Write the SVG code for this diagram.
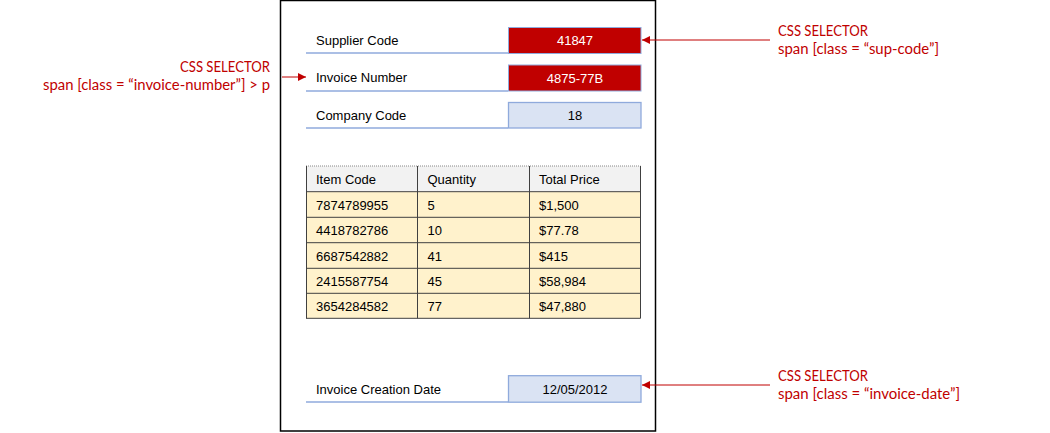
<svg xmlns="http://www.w3.org/2000/svg" width="1050" height="433" viewBox="0 0 1050 433">
<defs>
<style>
.lbl{font-family:"Liberation Sans",Arial,sans-serif;font-size:13px;fill:#000}
.val{font-family:"Liberation Sans",Arial,sans-serif;font-size:13px;text-anchor:middle}
.sel{font-family:Lato,"Open Sans",sans-serif;font-size:14.5px;fill:#c00000}
.ul{stroke:#8faadc;stroke-width:1.3}
.red{fill:#c00000;stroke:#8faadc;stroke-width:1}
.blue{fill:#dae3f3;stroke:#8faadc;stroke-width:1.3}
.cell{stroke:#404040;stroke-width:1}
.conn{stroke:#c00000;stroke-width:1;fill:none}
</style>
<marker id="ah" viewBox="0 0 10 10" refX="10" refY="5" markerWidth="8" markerHeight="8" markerUnits="userSpaceOnUse" orient="auto">
<path d="M0,0 L10,5 L0,10 z" fill="#c00000"/>
</marker>
</defs>
<rect width="1050" height="433" fill="#fff"/>
<g id="frame"><rect x="280.5" y="0.5" width="375" height="430.5" fill="#fff" stroke="#000" stroke-width="1.5"/></g>

<g id="supplier-code">
<line class="ul" x1="306" y1="53" x2="508" y2="53"/>
<text class="lbl" x="316" y="45">Supplier Code</text>
<rect class="red" x="508.5" y="27.5" width="132.5" height="26"/>
<text class="val" x="575" y="45" fill="#fff">41847</text>
</g>

<g id="invoice-number">
<line class="ul" x1="306" y1="91" x2="508" y2="91"/>
<text class="lbl" x="316" y="82">Invoice Number</text>
<rect class="red" x="508.5" y="65" width="132.5" height="26"/>
<text class="val" x="575" y="82.5" fill="#fff">4875-77B</text>
</g>

<g id="company-code">
<line class="ul" x1="306" y1="128" x2="508" y2="128"/>
<text class="lbl" x="316" y="119.5">Company Code</text>
<rect class="blue" x="508.5" y="102.5" width="132.5" height="25.5"/>
<text class="val" x="575" y="120" fill="#000">18</text>
</g>

<g id="item-table">
<rect x="306" y="166" width="334.5" height="25.7" fill="#f2f2f2"/>
<rect x="306" y="191.7" width="334.5" height="126.6" fill="#fff2cc"/>
<g class="cell">
<line x1="306" y1="166" x2="640.5" y2="166" stroke="#888" stroke-dasharray="1 1"/>
<line x1="306" y1="191.7" x2="640.5" y2="191.7"/>
<line x1="306" y1="217.3" x2="640.5" y2="217.3"/>
<line x1="306" y1="242.7" x2="640.5" y2="242.7"/>
<line x1="306" y1="268.3" x2="640.5" y2="268.3"/>
<line x1="306" y1="293.3" x2="640.5" y2="293.3"/>
<line x1="306" y1="318.3" x2="640.5" y2="318.3"/>
<line x1="306.5" y1="166" x2="306.5" y2="318.3"/>
<line x1="417.5" y1="166" x2="417.5" y2="318.3"/>
<line x1="529.5" y1="166" x2="529.5" y2="318.3"/>
<line x1="640.5" y1="166" x2="640.5" y2="318.3"/>
</g>
<g class="lbl">
<text x="316" y="184">Item Code</text><text x="427.5" y="184">Quantity</text><text x="539" y="184">Total Price</text>
<text x="316" y="209.5">7874789955</text><text x="427.5" y="209.5">5</text><text x="539" y="209.5">$1,500</text>
<text x="316" y="235">4418782786</text><text x="427.5" y="235">10</text><text x="539" y="235">$77.78</text>
<text x="316" y="260.5">6687542882</text><text x="427.5" y="260.5">41</text><text x="539" y="260.5">$415</text>
<text x="316" y="286">2415587754</text><text x="427.5" y="286">45</text><text x="539" y="286">$58,984</text>
<text x="316" y="311">3654284582</text><text x="427.5" y="311">77</text><text x="539" y="311">$47,880</text>
</g>
</g>

<g id="invoice-creation-date">
<line class="ul" x1="306" y1="402" x2="508" y2="402"/>
<text class="lbl" x="316" y="393.5">Invoice Creation Date</text>
<rect class="blue" x="508.5" y="375.7" width="132.5" height="26.5"/>
<text class="val" x="575" y="393.5" fill="#000">12/05/2012</text>
</g>

<g id="selector-sup-code">
<text class="sel" x="778" y="36" textLength="90" lengthAdjust="spacingAndGlyphs">CSS SELECTOR</text>
<text class="sel" x="778" y="53.5" textLength="161" lengthAdjust="spacingAndGlyphs">span [class = “sup-code”]</text>
</g>
<g id="selector-invoice-number">
<text class="sel" x="180" y="72" textLength="90" lengthAdjust="spacingAndGlyphs">CSS SELECTOR</text>
<text class="sel" x="43" y="89.5" textLength="227" lengthAdjust="spacingAndGlyphs">span [class = “invoice-number”] &gt; p</text>
</g>
<g id="selector-invoice-date">
<text class="sel" x="778" y="381" textLength="90" lengthAdjust="spacingAndGlyphs">CSS SELECTOR</text>
<text class="sel" x="778" y="398.5" textLength="182" lengthAdjust="spacingAndGlyphs">span [class = “invoice-date”]</text>
</g>

<g id="connectors">
<line class="conn" x1="770" y1="40" x2="642" y2="40" marker-end="url(#ah)"/>
<line class="conn" x1="282" y1="77" x2="306" y2="77" marker-end="url(#ah)"/>
<line class="conn" x1="770" y1="385" x2="642" y2="385" marker-end="url(#ah)"/>
</g>
</svg>
